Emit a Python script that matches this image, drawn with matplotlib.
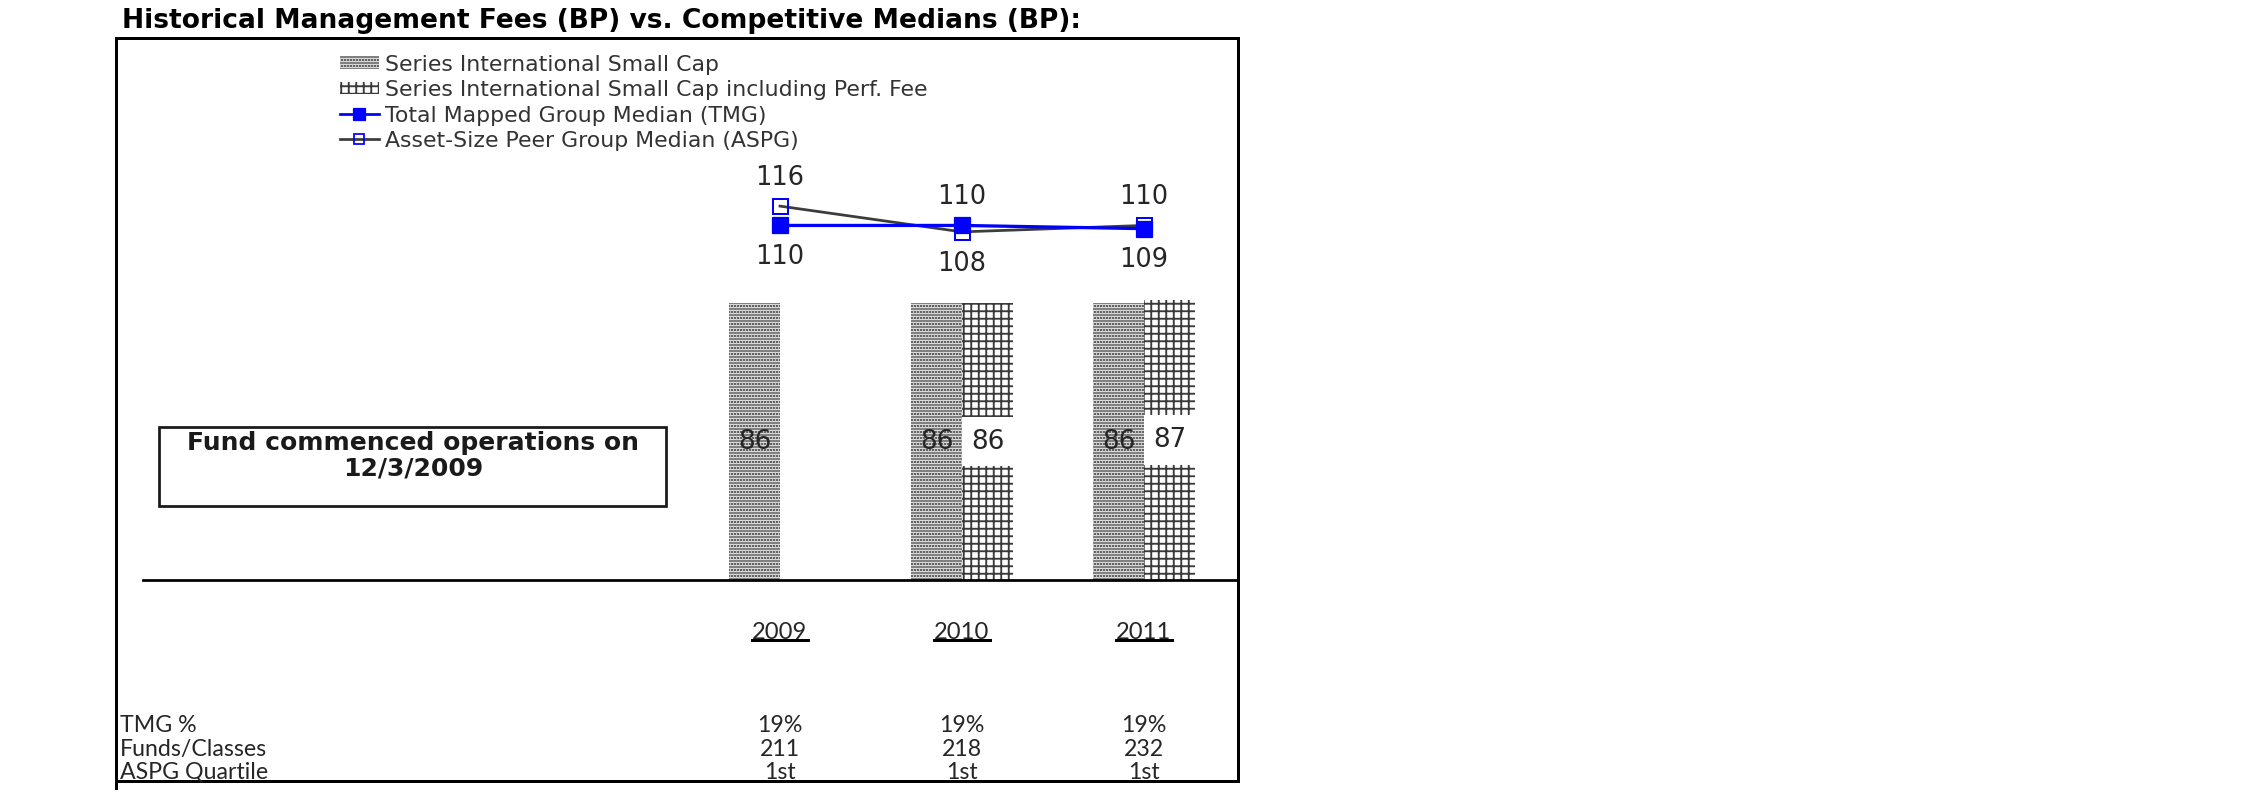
import numpy as np
import matplotlib
matplotlib.use("Agg")
import matplotlib.pyplot as plt
from matplotlib.patches import Patch, Rectangle
from matplotlib.lines import Line2D
from matplotlib.transforms import blended_transform_factory, IdentityTransform

# ===== DATA =====
YEARS = ["2009", "2010", "2011"]
SERIES_FEE = [86, 86, 86]
PERF_FEE = [np.nan, 86, 87]
TMG_MEDIAN = [110, 110, 109]
ASPG_MEDIAN = [116, 108, 110]

ROW_LABELS = ["TMG %", "Funds/Classes", "ASPG Quartile"]
TMG_PCT = ["19%", "19%", "19%"]
FUNDS_CLASSES = ["211", "218", "232"]
ASPG_QUARTILE = ["1st", "1st", "1st"]

LEGEND_LABELS = [
    "Series International Small Cap",
    "Series International Small Cap including Perf. Fee",
    "Total Mapped Group Median (TMG)",
    "Asset-Size Peer Group Median (ASPG)",
]
TITLE = "Historical Management Fees (BP) vs. Competitive Medians (BP):"
NOTE_LINES = ["Fund commenced operations on", "12/3/2009"]

# ===== STYLE =====
W, H, DPI = 2250, 796, 90
BLUE = "#0000ff"
ASPG_GRAY = "#3c3c3c"
DOT_GRAY = "#1e1e1e"
GRID_GRAY = "#3a3a3a"
TXT = "#262626"
DOT_HATCH = "....."
GRID_HATCH = "++"
BAR_W = 0.28
GAP_BP = 7.7  # half height of the white gap behind perf-fee labels
NARROW = ["Lato", "DejaVu Sans"]

plt.rcParams["hatch.linewidth"] = 1.5


def fx(px):
    return px / W


def fy(py):
    return 1 - py / H


fig = plt.figure(figsize=(W / DPI, (H + 0.5) / DPI), dpi=DPI)
fig.patch.set_facecolor("white")

# plot area: baseline at y=580px, 3.22 px per bp, groups 182px apart
ax = fig.add_axes([fx(143), fy(580), fx(1238) - fx(143), fy(38) - fy(580)])
ax.set_ylim(0, (580 - 38) / 3.22)
ax.set_xlim(-(780 - 143) / 182, 2 + (1238 - 1144) / 182)
for side in ["top", "left", "right"]:
    ax.spines[side].set_visible(False)
ax.spines["bottom"].set_linewidth(2.2)
ax.set_xticks([])
ax.set_yticks([])
ax.patch.set_alpha(0)

x = np.arange(len(YEARS))
ax.bar(x - BAR_W / 2, SERIES_FEE, BAR_W, color="white", edgecolor=DOT_GRAY,
       linewidth=0, hatch=DOT_HATCH, zorder=1)
ax.bar(x + BAR_W / 2, PERF_FEE, BAR_W, color="white", edgecolor=GRID_GRAY,
       linewidth=0, hatch=GRID_HATCH, zorder=1)

for i, v in enumerate(SERIES_FEE):
    ax.text(i - BAR_W / 2, v / 2, f"{v:.0f}", ha="center", va="center",
            fontsize=21, color=TXT, zorder=3)
for i, v in enumerate(PERF_FEE):
    if np.isnan(v):
        continue
    ax.add_patch(Rectangle((i, v / 2 - GAP_BP), BAR_W, 2 * GAP_BP,
                           facecolor="white", edgecolor="none", zorder=2))
    ax.text(i + BAR_W / 2, v / 2, f"{v:.0f}", ha="center", va="center",
            fontsize=21, color=TXT, zorder=3)

ax.plot(x, ASPG_MEDIAN, color=ASPG_GRAY, lw=2.2, marker="s", ms=12,
        mfc="none", mec=BLUE, mew=1.6, zorder=4, clip_on=False)
ax.plot(x, TMG_MEDIAN, color=BLUE, lw=2.6, marker="s", ms=12.5,
        mfc=BLUE, mec=BLUE, zorder=5, clip_on=False)

for i in range(len(YEARS)):
    hi = max(TMG_MEDIAN[i], ASPG_MEDIAN[i])
    lo = min(TMG_MEDIAN[i], ASPG_MEDIAN[i])
    ax.annotate(f"{hi}", (i, hi), xytext=(0, 23), textcoords="offset points",
                ha="center", va="center", fontsize=20.5, color=TXT)
    ax.annotate(f"{lo}", (i, lo), xytext=(0, -25), textcoords="offset points",
                ha="center", va="center", fontsize=20.5, color=TXT)

# legend
handles = [
    Patch(facecolor="white", edgecolor=DOT_GRAY, hatch=DOT_HATCH, linewidth=0),
    Patch(facecolor="white", edgecolor=GRID_GRAY, hatch=GRID_HATCH, linewidth=0),
    Line2D([], [], color=BLUE, lw=2.2, marker="s", ms=9, mfc=BLUE, mec=BLUE),
    Line2D([], [], color=ASPG_GRAY, lw=2.2, marker="s", ms=8, mfc="none",
           mec=BLUE, mew=1.4),
]
fig.legend(handles, LEGEND_LABELS, loc="upper left",
           bbox_to_anchor=(fx(340), fy(55)), frameon=False, fontsize=17.6,
           handlelength=1.75, handleheight=0.5, handletextpad=0.3,
           labelspacing=0.24, borderpad=0, borderaxespad=0, labelcolor="#333333")

# title and outer frame
fig.text(fx(122), fy(28), TITLE, fontsize=21.2, fontweight="bold",
         color="black", va="baseline", ha="left")
fig.add_artist(Rectangle((fx(116), fy(781)), fx(1238) - fx(116), fy(38) - fy(781),
                         fill=False, lw=2.4, ec="black", transform=fig.transFigure))
fig.add_artist(Line2D([fx(116), fx(116)], [fy(781), fy(788)], lw=2.4,
                      color="black", transform=fig.transFigure))

# note box
fig.add_artist(Rectangle((fx(159), fy(506)), fx(666) - fx(159), fy(427) - fy(506),
                         fill=False, lw=2.2, ec="#1a1a1a", transform=fig.transFigure))
fig.text(fx(413), fy(443), NOTE_LINES[0], fontsize=20, fontweight="bold",
         ha="center", va="center", color="#1a1a1a")
fig.text(fx(413), fy(468), NOTE_LINES[1], fontsize=20, fontweight="bold",
         ha="center", va="center", color="#1a1a1a")

# table under the chart
trans = blended_transform_factory(ax.transData, fig.transFigure)
year_texts = []
for i, yr in enumerate(YEARS):
    year_texts.append(ax.text(i, fy(632), yr, transform=trans, ha="center",
                              va="center", fontsize=19, family=NARROW,
                              color=TXT, clip_on=False))

row_y = [725, 749, 772]
rows = [TMG_PCT, FUNDS_CLASSES, ASPG_QUARTILE]
for label, vals, yy in zip(ROW_LABELS, rows, row_y):
    fig.text(fx(120), fy(yy), label, ha="left", va="center", fontsize=18.5,
             family=NARROW, color=TXT)
    for i, v in enumerate(vals):
        ax.text(i, fy(yy), v, transform=trans, ha="center", va="center",
                fontsize=18.5, family=NARROW, color=TXT, clip_on=False)

# underline the years
fig.canvas.draw()
for t in year_texts:
    bb = t.get_window_extent()
    fig.add_artist(Line2D([bb.x0, bb.x1], [bb.y0 + 2, bb.y0 + 2], lw=2.4,
                          color="black", transform=IdentityTransform()))

fig.savefig("out.png", dpi=DPI, facecolor="white")
